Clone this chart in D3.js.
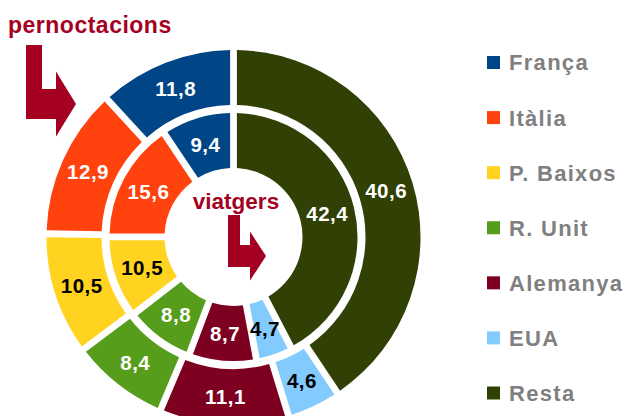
<!DOCTYPE html>
<html>
<head>
<meta charset="utf-8">
<script src="https://cdn.jsdelivr.net/npm/d3@7"></script>
<style>
  body { margin: 0; background: #fff; }
  svg { display: block; font-family: "Liberation Sans", Arial, sans-serif; font-weight: bold; }
</style>
</head>
<body>
<div class="chart"></div>
<script>
  // data
  var paisos        = ["França", "Itàlia", "P. Baixos", "R. Unit", "Alemanya", "EUA", "Resta"];
  var pernoctacions = [11.8, 12.9, 10.5, 8.4, 11.1, 4.6, 40.6];
  var viatgers      = [9.4, 15.6, 10.5, 8.8, 8.7, 4.7, 42.4];
  var colors        = ["#004586", "#ff420e", "#ffd320", "#579d1c", "#7e0021", "#83caff", "#314004"];
  var darkText      = ["P. Baixos", "EUA"]; // labels written in black

  var width = 627, height = 416;
  var cx = 233.5, cy = 237;
  var red = "#a50021";

  var svg = d3.select(".chart").append("svg")
    .attr("width", width)
    .attr("height", height);

  var color = d3.scaleOrdinal().domain(paisos).range(colors);
  var fmt = function(v){ return d3.format(".1f")(v).replace(".", ","); };

  // counter-clockwise from 12 o'clock, so Resta ends up on the right
  var pie = d3.pie().sort(null).startAngle(0).endAngle(-2 * Math.PI);

  var rings = [
    {values: pernoctacions, inner: 132, outer: 187},
    {values: viatgers,      inner: 69,  outer: 124}
  ];

  var g = svg.append("g").attr("transform", "translate(" + cx + "," + cy + ")");

  rings.forEach(function(ring){
    var arc = d3.arc()
      .innerRadius(ring.inner)
      .outerRadius(ring.outer)
      .padAngle(0.068)
      .padRadius(100);

    var slices = pie(ring.values).map(function(d, i){ d.pais = paisos[i]; return d; });

    var rg = g.append("g");
    rg.selectAll("path")
      .data(slices)
      .enter()
      .append("path")
      .attr("d", arc)
      .style("fill", function(d){ return color(d.pais); });

    rg.selectAll("text")
      .data(slices)
      .enter()
      .append("text")
      .attr("transform", function(d){ return "translate(" + arc.centroid(d) + ")"; })
      .attr("text-anchor", "middle")
      .attr("dy", "0.36em")
      .style("font-size", "20.5px")
      .style("letter-spacing", "0.5px")
      .style("fill", function(d){ return darkText.indexOf(d.pais) >= 0 ? "#000" : "#fff"; })
      .text(function(d){ return fmt(d.data); });
  });

  // titles + bent arrows
  svg.append("text")
    .attr("x", 8).attr("y", 33)
    .style("font-size", "23px")
    .style("letter-spacing", "0.5px")
    .style("fill", red)
    .text("pernoctacions");

  svg.append("text")
    .attr("x", 236).attr("y", 209)
    .attr("text-anchor", "middle")
    .style("font-size", "22.5px")
    .style("fill", red)
    .text("viatgers");

  function bentArrow(x, y, bar, foot, footH, drop, headW, headH, tip){
    // x,y = top left of the vertical bar
    var fy = y + drop, my = fy + footH / 2, hx = x + foot;
    return [
      [x, y], [x + bar, y], [x + bar, fy], [hx, fy], [hx, my - headH / 2],
      [hx + tip, my], [hx, my + headH / 2], [hx, fy + footH], [x, fy + footH]
    ];
  }
  var line = d3.line();
  svg.append("path")
    .attr("d", line(bentArrow(26, 45, 16, 30, 30, 44, 0, 65, 20)) + "Z")
    .style("fill", red);
  svg.append("path")
    .attr("d", line(bentArrow(228, 215, 12, 22, 22, 30, 0, 49, 16)) + "Z")
    .style("fill", red);

  // legend
  var ly = d3.scalePoint().domain(paisos).range([62.5, 393]);
  var legend = svg.append("g").selectAll("g")
    .data(paisos)
    .enter()
    .append("g")
    .attr("transform", function(d){ return "translate(487," + ly(d) + ")"; });

  legend.append("rect")
    .attr("x", 0).attr("y", -6.5)
    .attr("width", 13).attr("height", 13)
    .style("fill", function(d){ return color(d); });

  legend.append("text")
    .attr("x", 22).attr("dy", "0.36em")
    .style("font-size", "22px")
    .style("letter-spacing", "1.3px")
    .style("fill", "#808080")
    .text(function(d){ return d; });
</script>
</body>
</html>
